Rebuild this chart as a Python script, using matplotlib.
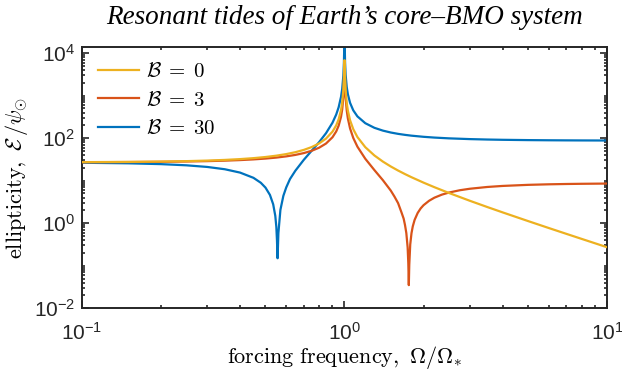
import numpy as np
import matplotlib
matplotlib.use("Agg")
import matplotlib.pyplot as plt
from matplotlib.ticker import FixedLocator, LogLocator, NullFormatter

plt.rcParams["font.family"] = ["Liberation Sans", "DejaVu Sans"]
plt.rcParams["mathtext.fontset"] = "cm"

# B = 0
freq_b0 = [0.1, 0.15, 0.2, 0.25, 0.3, 0.35, 0.4, 0.45, 0.5, 0.55, 0.6, 0.65, 0.7, 0.75,
           0.8, 0.85, 0.9, 0.93, 0.95, 0.97, 0.98, 0.99, 0.995, 0.998, 1.002, 1.005,
           1.01, 1.02, 1.03, 1.05, 1.08, 1.12, 1.2, 1.3, 1.4, 1.5, 1.6, 1.7, 1.8, 2.0,
           2.2, 2.5, 3, 3.5, 4, 5, 6, 7, 8, 10]
ell_b0 = [27.27, 27.62, 28.13, 28.8, 29.67, 30.77, 32.14, 33.86, 36.0, 38.71, 42.19, 46.75,
          52.94, 61.71, 75.0, 97.3, 142.1, 199.9, 276.9, 456.9, 681.8, 1357, 2707, 6757,
          6743, 2693, 1343, 668.3, 443.3, 263.4, 162.3, 106.1, 61.36, 39.13, 28.13, 21.6,
          17.31, 14.29, 12.05, 9.0, 7.03, 5.14, 3.375, 2.4, 1.8, 1.125, 0.771, 0.5625,
          0.4286, 0.2727]

# B = 3
freq_b3 = [0.1, 0.15, 0.2, 0.25, 0.3, 0.35, 0.4, 0.45, 0.5, 0.55, 0.6, 0.65, 0.7, 0.75,
           0.8, 0.85, 0.9, 0.93, 0.95, 0.97, 0.98, 0.99, 0.995, 0.998, 1.002, 1.005,
           1.01, 1.02, 1.03, 1.05, 1.08, 1.12, 1.2, 1.3, 1.4, 1.5, 1.55, 1.6, 1.65, 1.68,
           1.7, 1.72, 1.74, 1.75, 1.758, 1.765, 1.78, 1.8, 1.82, 1.85, 1.9, 1.95, 2.0, 2.1,
           2.2, 2.35, 2.5, 2.75, 3, 3.5, 4, 5, 6, 7, 8, 10]
ell_b3 = [27.18, 27.42, 27.77, 28.22, 28.81, 29.55, 30.48, 31.64, 33.09, 34.92, 37.27, 40.36,
          44.54, 50.48, 59.47, 74.55, 104.9, 143.9, 196.0, 317.8, 469.9, 926.4, 1840, 4579,
          4552, 1813, 899.7, 443.3, 291.1, 169.4, 101.0, 63.03, 32.77, 17.73, 10.29, 5.871,
          4.23, 2.969, 1.77, 1.283, 0.91, 0.5873, 0.269, 0.1165, 0.035, 0.1043, 0.3159,
          0.5847, 0.842, 1.2, 1.741, 2.224, 2.65, 3.37, 3.98, 4.70, 5.26, 5.96, 6.455, 7.115,
          7.52, 7.977, 8.216, 8.358, 8.448, 8.553]

# B = 30
freq_b30 = [0.1, 0.15, 0.2, 0.25, 0.3, 0.35, 0.4, 0.45, 0.48, 0.5, 0.52, 0.535, 0.545, 0.55,
            0.553, 0.556, 0.56, 0.57, 0.585, 0.6, 0.62, 0.65, 0.7, 0.75, 0.8, 0.85, 0.9,
            0.93, 0.95, 0.97, 0.98, 0.99, 0.995, 0.998, 1.002, 1.005, 1.01, 1.02, 1.03,
            1.05, 1.08, 1.12, 1.2, 1.3, 1.4, 1.5, 1.6, 1.7, 1.8, 2.0, 2.2, 2.5, 3, 3.5, 4,
            5, 6, 7, 8, 10]
ell_b30 = [26.39, 25.61, 24.49, 22.97, 21.03, 18.57, 15.5, 11.67, 8.925, 6.874, 4.623, 2.788,
           1.488, 0.8145, 0.4017, 0.15, 0.5857, 2.058, 4.414, 6.961, 10.93, 17.17, 31.01,
           50.63, 80.34, 130.2, 230.4, 359.6, 531.8, 934.4, 1437, 2947, 5966, 15023, 15166,
           6110, 3091, 1582, 1079, 676.4, 450.4, 324.6, 224.6, 174.9, 150.3, 135.7, 126.1,
           119.4, 114.3, 107.5, 103.1, 98.88, 94.93, 92.75, 91.4, 89.9, 89.1, 88.64, 88.34,
           87.99]

series = [
    (freq_b0, ell_b0, "#EDB120", r"$\mathcal{B}\;=\;0$", 4),
    (freq_b3, ell_b3, "#D95319", r"$\mathcal{B}\;=\;3$", 3),
    (freq_b30, ell_b30, "#0072BD", r"$\mathcal{B}\;=\;30$", 2),
]

fig = plt.figure(figsize=(6.22, 3.75), dpi=100)
ax = fig.add_axes([0.1318, 0.1779, 0.8441, 0.6976])

for x, y, col, lab, z in series:
    ax.plot(x, y, color=col, lw=1.6, label=lab, zorder=z)

ax.set_xscale("log")
ax.set_yscale("log")
ax.set_xlim(0.1, 10)
ax.set_ylim(1e-2, 10**4.15)

ax.xaxis.set_major_locator(FixedLocator([0.1, 1, 10]))
ax.yaxis.set_major_locator(FixedLocator([1e-2, 1e0, 1e2, 1e4]))
ax.xaxis.set_minor_locator(LogLocator(base=10, subs=np.arange(2, 10), numticks=20))
ax.yaxis.set_minor_locator(LogLocator(base=10, subs=np.arange(1, 10), numticks=20))
ax.yaxis.set_minor_formatter(NullFormatter())
ax.xaxis.set_minor_formatter(NullFormatter())

for s in ax.spines.values():
    s.set_color("#262626")
    s.set_linewidth(1.4)
ax.tick_params(which="both", direction="in", top=True, right=True, colors="#262626",
               labelsize=15, width=1.2)
ax.tick_params(which="major", length=5)
ax.tick_params(axis="x", which="major", pad=10)
ax.tick_params(axis="y", which="major", pad=5)
ax.tick_params(which="minor", length=2.5)

ax.set_xlabel(r"$\mathrm{forcing\ frequency,}\ \Omega/\Omega_{*}$", fontsize=16, labelpad=0)
ax.set_ylabel(r"$\mathrm{ellipticity,}\ \mathcal{E}\,/\psi_{\odot}$", fontsize=16, labelpad=3)

ax.legend(loc="upper left", frameon=False, fontsize=15, handlelength=2.0,
          handletextpad=0.3, labelspacing=0.45, borderaxespad=0.35)

fig.text(0.554, 0.952, "Resonant tides of Earth\u2019s core\u2013BMO system",
         ha="center", va="center", fontsize=19.5, style="italic",
         family="Liberation Serif")

fig.savefig("out.png", dpi=100)
